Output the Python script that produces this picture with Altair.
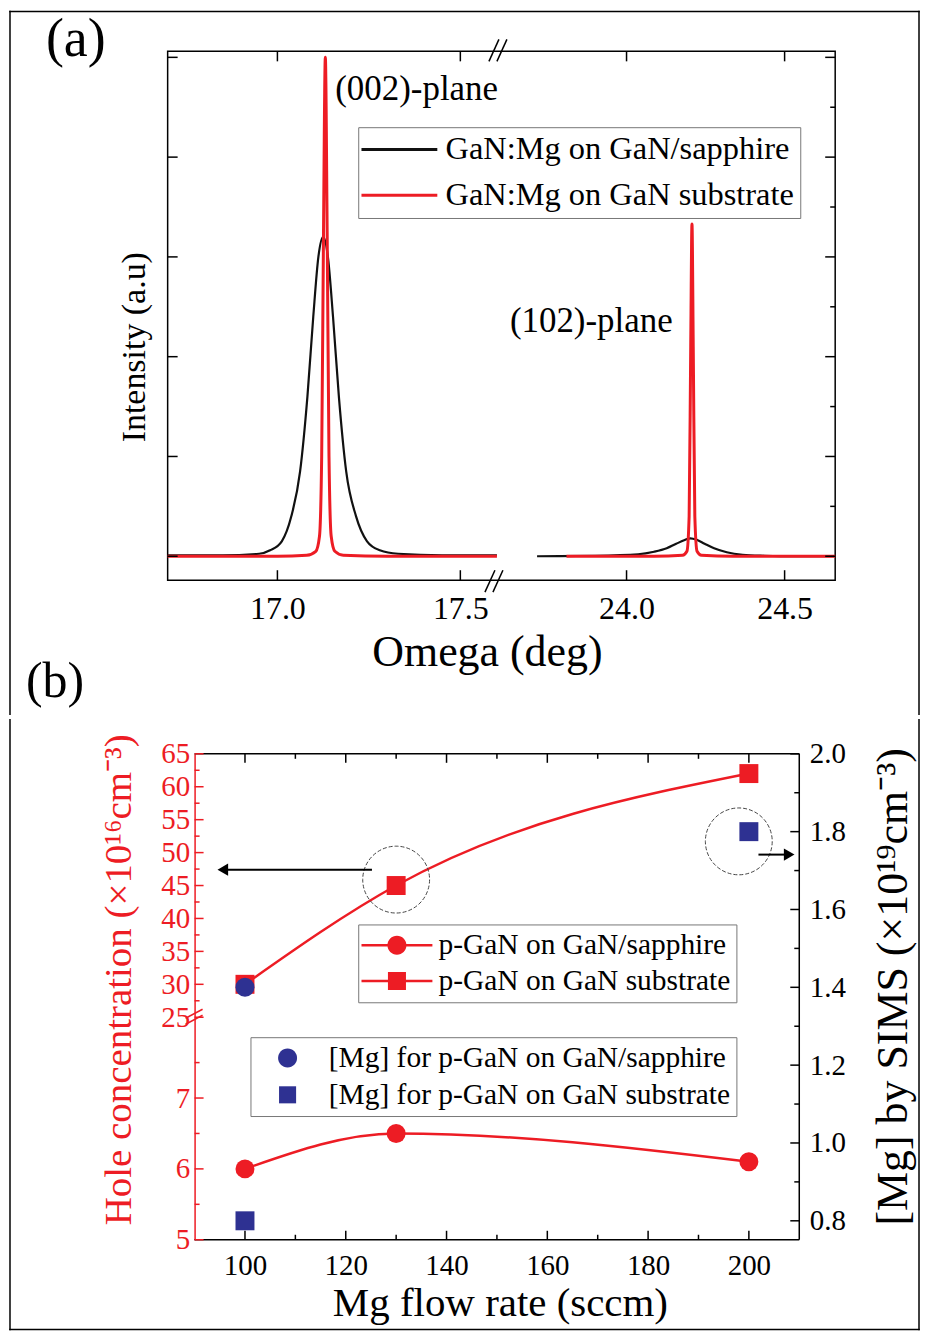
import altair as alt
import pandas as pd

RED = "#ED1C24"
BLUE = "#2E3192"
INK = "#111111"
FONT = "Liberation Serif"

# ---------------- panel (a): XRD rocking curves ----------------
series_a = ["GaN:Mg on GaN/sapphire", "GaN:Mg on GaN substrate"]

omega_002_black = [16.70, 16.85, 16.95, 16.98, 17.012, 17.038, 17.062, 17.082, 17.098, 17.112, 17.125,
                   17.138, 17.152, 17.168, 17.188, 17.215, 17.245, 17.28, 17.33, 17.45, 17.60]
int_002_black = [0.002, 0.002, 0.005, 0.012, 0.03, 0.08, 0.17, 0.32, 0.48, 0.60, 0.64,
                 0.60, 0.48, 0.32, 0.17, 0.08, 0.03, 0.012, 0.005, 0.002, 0.002]

omega_002_red = [16.70, 17.00, 17.08, 17.105, 17.115, 17.121, 17.126, 17.131, 17.136, 17.141, 17.147,
                 17.157, 17.18, 17.30, 17.60]
int_002_red = [0.0, 0.0, 0.002, 0.01, 0.04, 0.2, 0.65, 1.0, 0.65, 0.2, 0.04, 0.01, 0.002, 0.0, 0.0]

omega_102_black = [23.717, 23.90, 24.037, 24.087, 24.127, 24.157, 24.182, 24.202, 24.222, 24.247,
                   24.277, 24.317, 24.367, 24.437, 24.537, 24.66]
int_102_black = [0.0, 0.001, 0.004, 0.009, 0.016, 0.025, 0.032, 0.036, 0.033, 0.025, 0.016,
                 0.008, 0.003, 0.001, 0.0, 0.0]

omega_102_red = [23.81, 24.087, 24.177, 24.191, 24.198, 24.203, 24.207, 24.211, 24.216, 24.223,
                 24.237, 24.337, 24.66]
int_102_red = [0.0, 0.0, 0.002, 0.01, 0.08, 0.42, 0.666, 0.42, 0.08, 0.01, 0.002, 0.0, 0.0]

omega_ticks = [17.0, 17.5, 24.0, 24.5]
int_ticks_left = [0.0, 0.2, 0.4, 0.6, 0.8, 1.0]
int_ticks_right_major = [0.0, 0.2, 0.4, 0.6, 0.8, 1.0]
int_ticks_right_minor = [0.1, 0.3, 0.5, 0.7, 0.9]
omega_break = [17.6]

plane_labels = ["(002)-plane", "(102)-plane"]
plane_x = [17.158, 23.631]
plane_y = [0.936, 0.472]

# ---------------- panel (b): hole concentration / SIMS ----------------
series_b = ["p-GaN on GaN/sapphire", "p-GaN on GaN substrate"]
flow = [100, 130, 200]
hole_on_sapphire = [6.0, 6.5, 6.1]
hole_on_substrate = [30.0, 45.0, 62.0]

mg_series = ["[Mg] for p-GaN on GaN/sapphire", "[Mg] for p-GaN on GaN substrate"]
mg_flow = [100, 100, 200]
mg_value = [1.4, 0.8, 1.8]
mg_kind = [mg_series[0], mg_series[1], mg_series[1]]

flow_major = [100, 120, 140, 160, 180, 200]
flow_minor = [110, 130, 150, 170, 190]
hole_major = [5, 6, 7, 25, 30, 35, 40, 45, 50, 55, 60, 65]
hole_minor = [5.5, 6.5, 7.5, 27.5, 32.5, 37.5, 42.5, 47.5, 52.5, 57.5, 62.5]
mg_major = [0.8, 1.0, 1.2, 1.4, 1.6, 1.8, 2.0]
mg_minor = [0.9, 1.1, 1.3, 1.5, 1.7, 1.9]
hole_break = [25]

ring_hole = {"flow": [130], "hole": [45.9]}
ring_mg = {"flow": [198], "mg": [1.775]}
arrow_hole = {"flow": [125.2], "flow_end": [96.0], "hole": [47.4], "head": [95.6]}
arrow_mg = {"flow": [201.9], "flow_end": [207.0], "mg": [1.741], "head": [208.0]}

one = pd.DataFrame({"k": [0]})
BORDER = dict(color="black", strokeWidth=1.5, strokeCap="square")

# ================= panel (a) =================
WA, HA = 669, 530
xs_a = alt.Scale(domain=[16.7, 17.6, 23.59, 24.66], range=[0, 330, 330, WA], zero=False, nice=False)
ys_a = alt.Scale(domain=[-0.048, 1.012], zero=False, nice=False)
color_a = alt.Scale(domain=series_a, range=[INK, RED])

xax_a = alt.Axis(values=omega_ticks, format=".1f", title="Omega (deg)", ticks=False, domain=False,
                 grid=False, labelFontSize=32, labelPadding=13, labelColor="black",
                 titleFontSize=44, titleX=320, titleY=50, titleColor="black", labelFlush=False)
yax_a = alt.Axis(labels=False, ticks=False, domain=False, grid=False, title="Intensity (a.u)",
                 titleFontSize=34, titleX=-16, titleY=296, titleColor="black")
leg_a = alt.Legend(title=None, orient="none", legendX=191, legendY=76,
                   symbolType="M-2,0L6,0", symbolSize=361, symbolStrokeWidth=3,
                   labelFontSize=32.5, labelFont=FONT, labelOffset=49, padding=6, rowPadding=13,
                   strokeColor="#777777", fillColor="white", labelLimit=0, labelColor="black")


def seg_frame(xs, ys, sample, segment):
    return pd.DataFrame({"omega": xs, "intensity": ys, "sample": sample, "segment": segment})


df_black = pd.concat([seg_frame(omega_002_black, int_002_black, series_a[0], "002"),
                      seg_frame(omega_102_black, int_102_black, series_a[0], "102")])
df_red = pd.concat([seg_frame(omega_002_red, int_002_red, series_a[1], "002"),
                    seg_frame(omega_102_red, int_102_red, series_a[1], "102")])

X_A = alt.X("omega:Q", scale=xs_a, axis=xax_a)
Y_A = alt.Y("intensity:Q", scale=ys_a, axis=yax_a)

line_black = alt.Chart(df_black).mark_line(strokeWidth=2.2, interpolate="monotone").encode(
    x=X_A, y=Y_A, color=alt.Color("sample:N", scale=color_a, legend=leg_a), detail="segment:N")
line_red = alt.Chart(df_red).mark_line(strokeWidth=3, interpolate="monotone").encode(
    x=X_A, y=Y_A, color=alt.Color("sample:N", scale=color_a, legend=leg_a), detail="segment:N")

df_planes = pd.DataFrame({"omega": plane_x, "intensity": plane_y, "label": plane_labels})
plane_text = alt.Chart(df_planes).mark_text(align="left", baseline="middle", font=FONT,
                                            fontSize=35, color="black").encode(
    x=X_A, y=Y_A, text="label:N")

df_xt = pd.DataFrame({"omega": omega_ticks})
tick_bottom_a = alt.Chart(df_xt).mark_rule(color="black", strokeWidth=1.5).encode(
    x=X_A, y=alt.value(HA), y2=alt.value(HA - 10))
tick_top_a = alt.Chart(df_xt).mark_rule(color="black", strokeWidth=1.5).encode(
    x=X_A, y=alt.value(0), y2=alt.value(10))
tick_left_a = alt.Chart(pd.DataFrame({"intensity": int_ticks_left})).mark_rule(
    color="black", strokeWidth=1.5).encode(y=Y_A, x=alt.value(0), x2=alt.value(10))
tick_right_a = alt.Chart(pd.DataFrame({"intensity": int_ticks_right_major})).mark_rule(
    color="black", strokeWidth=1.5).encode(y=Y_A, x=alt.value(WA), x2=alt.value(WA - 10))
tick_right_a2 = alt.Chart(pd.DataFrame({"intensity": int_ticks_right_minor})).mark_rule(
    color="black", strokeWidth=1.5).encode(y=Y_A, x=alt.value(WA), x2=alt.value(WA - 5))

df_brk = pd.DataFrame({"omega": omega_break})


def slash_a(dx1, dx2, y1, y2):
    return alt.Chart(df_brk).mark_rule(color="black", strokeWidth=1.5, xOffset=dx1,
                                       x2Offset=dx2).encode(
        x=X_A, x2="omega:Q", y=alt.value(y1), y2=alt.value(y2))


breaks_a = [slash_a(-8, 2, 10, -12), slash_a(0, 10, 10, -12),
            slash_a(-12, -2, HA + 12, HA - 10), slash_a(-4, 6, HA + 12, HA - 10)]

A_TOP, A_BOT = -40, 664.25
border_a = [
    alt.Chart(one).mark_rule(**BORDER).encode(x=alt.value(-158), x2=alt.value(753), y=alt.value(A_TOP)),
    alt.Chart(one).mark_rule(**BORDER).encode(x=alt.value(-158), y=alt.value(A_TOP), y2=alt.value(A_BOT)),
    alt.Chart(one).mark_rule(**BORDER).encode(x=alt.value(753), y=alt.value(A_TOP), y2=alt.value(A_BOT)),
]
label_a = alt.Chart(one).mark_text(text="(a)", align="left", baseline="top", font=FONT,
                                   fontSize=54, color="black").encode(
    x=alt.value(-122), y=alt.value(-38))
label_b = alt.Chart(one).mark_text(text="(b)", align="left", baseline="top", font=FONT,
                                   fontSize=50, color="black").encode(
    x=alt.value(-142), y=alt.value(607))

panel_a = alt.layer(line_black, line_red, plane_text, tick_bottom_a, tick_top_a, tick_left_a,
                    tick_right_a, tick_right_a2, *breaks_a, *border_a, label_a, label_b).properties(
    width=WA, height=HA)

# ================= panel (b) =================
# the plot area sits 27 px to the right of the shared column origin
LB, WB, HB = 27, 633, 487
xs_b = alt.Scale(domain=[90, 210], range=[LB, WB], zero=False, nice=False)
ys_hole = alt.Scale(domain=[5, 8.14, 25, 65], range=[HB, 264, 264, 0], zero=False, nice=False)
ys_mg = alt.Scale(domain=[0.7513, 2.0], zero=False, nice=False)

xax_b = alt.Axis(values=flow_major, title="Mg flow rate (sccm)", ticks=False, domain=False,
                 grid=False, labelFontSize=29, labelPadding=12, labelColor="black",
                 titleFontSize=41, titleX=333, titleY=44, titleColor="black", labelFlush=False)
yax_hole = alt.Axis(orient="left", offset=-LB, values=hole_major, format="d", ticks=False,
                    domain=True, domainColor=RED, domainWidth=1.5, grid=False, labelFontSize=29,
                    labelPadding=5, labelColor=RED, labelOverlap=False, labelFlush=False,
                    labelBound=False, title="Hole concentration (×10¹⁶cm⁻³)", titleFontSize=39,
                    titleColor=RED, titleX=-56, titleY=226)
yax_mg = alt.Axis(orient="right", values=mg_major, format=".1f", ticks=False, domain=False,
                  grid=False, labelFontSize=29, labelPadding=10, labelColor="black",
                  labelOverlap=False, labelFlush=False, labelBound=False,
                  title="[Mg] by SIMS (×10¹⁹cm⁻³)", titleFontSize=44, titleColor="black",
                  titleAngle=270, titleBaseline="bottom", titleX=116, titleY=233)

X_B = alt.X("flow:Q", scale=xs_b, axis=xax_b)
Y_HOLE = alt.Y("hole:Q", scale=ys_hole, axis=None)
Y_MG = alt.Y("mg:Q", scale=ys_mg, axis=None)

df_hole = pd.DataFrame({
    "flow": flow + flow,
    "hole": hole_on_sapphire + hole_on_substrate,
    "series": [series_b[0]] * 3 + [series_b[1]] * 3,
})
df_mg = pd.DataFrame({"flow": mg_flow, "mg": mg_value, "kind": mg_kind})

# legend glyphs: a line with a marker (red) and plain markers (blue), all filled shapes
PATH_RC = "M-1.84,-0.13H5.64V0.13H-1.84Z M2.9,0A1,1,0,1,1,0.9,0A1,1,0,1,1,2.9,0Z"
PATH_RS = "M-1.84,-0.13H5.64V0.13H-1.84Z M0.95,-0.95H2.85V0.95H0.95Z"
PATH_BC = "M2.73,0A1,1,0,1,1,0.73,0A1,1,0,1,1,2.73,0Z"
PATH_BS = "M0.83,-0.9H2.63V0.9H0.83Z"

leg_red = alt.Legend(title=None, orient="none", legendX=191, legendY=171, symbolSize=361,
                     symbolStrokeWidth=0, symbolOpacity=1, labelFontSize=29.5, labelFont=FONT,
                     labelOffset=45, padding=6, rowPadding=5, strokeColor="#777777",
                     fillColor="white", labelLimit=0, labelColor="black")
leg_blue = alt.Legend(title=None, orient="none", legendX=83, legendY=284, symbolSize=361,
                      symbolStrokeWidth=0, symbolOpacity=1, labelFontSize=29.5, labelFont=FONT,
                      labelOffset=43, padding=6, rowPadding=6, strokeColor="#777777",
                      fillColor="white", labelLimit=0, labelColor="black")

line_hole = alt.Chart(df_hole).mark_line(color=RED, strokeWidth=2.5, interpolate="monotone").encode(
    x=X_B, y=alt.Y("hole:Q", scale=ys_hole, axis=yax_hole), detail="series:N")
pts_hole = alt.Chart(df_hole).mark_point(filled=True, size=361, color=RED, opacity=1).encode(
    x=X_B, y=Y_HOLE,
    shape=alt.Shape("series:N", scale=alt.Scale(domain=series_b, range=["circle", "square"]),
                    legend=None))
legend_hole = alt.Chart(df_hole).mark_point(filled=True, size=361, color=RED).encode(
    x=X_B, y=Y_HOLE, opacity=alt.value(0),
    shape=alt.Shape("series:N", scale=alt.Scale(domain=series_b, range=[PATH_RC, PATH_RS]),
                    legend=leg_red))

ticks_hole = [
    alt.Chart(pd.DataFrame({"hole": hole_major})).mark_rule(color=RED, strokeWidth=1.5).encode(
        y=Y_HOLE, x=alt.value(LB), x2=alt.value(LB + 9)),
    alt.Chart(pd.DataFrame({"hole": hole_minor})).mark_rule(color=RED, strokeWidth=1.5).encode(
        y=Y_HOLE, x=alt.value(LB), x2=alt.value(LB + 5)),
]
df_hbrk = pd.DataFrame({"hole": hole_break})


def slash_b(dy1, dy2):
    return alt.Chart(df_hbrk).mark_rule(color=RED, strokeWidth=1.5, yOffset=dy1,
                                        y2Offset=dy2).encode(
        y=Y_HOLE, y2="hole:Q", x=alt.value(LB - 9), x2=alt.value(LB + 8))


breaks_b = [slash_b(1, -8), slash_b(7, -2)]

ring1 = alt.Chart(pd.DataFrame(ring_hole)).mark_point(shape="circle", size=4489, filled=False,
                                                      stroke="#444444", strokeWidth=1,
                                                      strokeDash=[4, 2], opacity=1).encode(
    x=X_B, y=Y_HOLE)
arr1 = alt.Chart(pd.DataFrame(arrow_hole)).mark_rule(color="black", strokeWidth=2).encode(
    x=X_B, x2="flow_end:Q", y=Y_HOLE)
head1 = alt.Chart(pd.DataFrame(arrow_hole)).mark_point(shape="triangle-left", filled=True, size=150,
                                                       color="black", opacity=1).encode(
    x=alt.X("head:Q", scale=xs_b, axis=xax_b), y=Y_HOLE)

pts_mg = alt.Chart(df_mg).mark_point(filled=True, size=361, color=BLUE, opacity=1).encode(
    x=X_B, y=alt.Y("mg:Q", scale=ys_mg, axis=yax_mg),
    shape=alt.Shape("kind:N", scale=alt.Scale(domain=mg_series, range=["circle", "square"]),
                    legend=None))
legend_mg = alt.Chart(df_mg).mark_point(filled=True, size=361, color=BLUE).encode(
    x=X_B, y=Y_MG, opacity=alt.value(0),
    shape=alt.Shape("kind:N", scale=alt.Scale(domain=mg_series, range=[PATH_BC, PATH_BS]),
                    legend=leg_blue))
ticks_mg = [
    alt.Chart(pd.DataFrame({"mg": mg_major})).mark_rule(color="black", strokeWidth=1.5).encode(
        y=Y_MG, x=alt.value(WB), x2=alt.value(WB - 9)),
    alt.Chart(pd.DataFrame({"mg": mg_minor})).mark_rule(color="black", strokeWidth=1.5).encode(
        y=Y_MG, x=alt.value(WB), x2=alt.value(WB - 5)),
]
ring2 = alt.Chart(pd.DataFrame(ring_mg)).mark_point(shape="circle", size=4489, filled=False,
                                                    stroke="#444444", strokeWidth=1,
                                                    strokeDash=[4, 2], opacity=1).encode(
    x=X_B, y=Y_MG)
arr2 = alt.Chart(pd.DataFrame(arrow_mg)).mark_rule(color="black", strokeWidth=2).encode(
    x=X_B, x2="flow_end:Q", y=Y_MG)
head2 = alt.Chart(pd.DataFrame(arrow_mg)).mark_point(shape="triangle-right", filled=True, size=150,
                                                     color="black", opacity=1).encode(
    x=alt.X("head:Q", scale=xs_b, axis=xax_b), y=Y_MG)

ticks_flow = [
    alt.Chart(pd.DataFrame({"flow": flow_major})).mark_rule(color="black", strokeWidth=1.5).encode(
        x=X_B, y=alt.value(HB), y2=alt.value(HB - 9)),
    alt.Chart(pd.DataFrame({"flow": flow_minor})).mark_rule(color="black", strokeWidth=1.5).encode(
        x=X_B, y=alt.value(HB), y2=alt.value(HB - 5)),
    alt.Chart(pd.DataFrame({"flow": flow_major})).mark_rule(color="black", strokeWidth=1.5).encode(
        x=X_B, y=alt.value(0), y2=alt.value(9)),
    alt.Chart(pd.DataFrame({"flow": flow_minor})).mark_rule(color="black", strokeWidth=1.5).encode(
        x=X_B, y=alt.value(0), y2=alt.value(5)),
]
frame_b = [
    alt.Chart(one).mark_rule(color="black", strokeWidth=1.5).encode(
        x=alt.value(LB), x2=alt.value(WB), y=alt.value(0)),
    alt.Chart(one).mark_rule(color="black", strokeWidth=1.5).encode(
        x=alt.value(LB), x2=alt.value(WB), y=alt.value(HB)),
    alt.Chart(one).mark_rule(color="black", strokeWidth=1.5).encode(
        x=alt.value(WB), y=alt.value(0), y2=alt.value(HB)),
]
B_TOP, B_BOT = -34.25, 577
border_b = [
    alt.Chart(one).mark_rule(**BORDER).encode(x=alt.value(-158), x2=alt.value(753), y=alt.value(B_BOT)),
    alt.Chart(one).mark_rule(**BORDER).encode(x=alt.value(-158), y=alt.value(B_TOP), y2=alt.value(B_BOT)),
    alt.Chart(one).mark_rule(**BORDER).encode(x=alt.value(753), y=alt.value(B_TOP), y2=alt.value(B_BOT)),
]

panel_b = alt.layer(*frame_b, line_hole, legend_hole, pts_hole, *ticks_hole, *breaks_b, ring1, arr1,
                    head1, legend_mg, pts_mg, *ticks_mg, ring2, arr2, head2, *ticks_flow,
                    *border_b).resolve_scale(
    y="independent", shape="independent").resolve_legend(shape="independent").properties(
    width=WB, height=HB, view=alt.ViewBackground(stroke="transparent"))

chart = alt.vconcat(panel_a, panel_b, spacing=0).resolve_scale(
    color="independent", shape="independent").resolve_legend(
    color="independent", shape="independent").properties(padding=0).configure_view(
    stroke="black", strokeWidth=1.5).configure_axis(
    labelFont=FONT, titleFont=FONT, titleFontWeight="normal", grid=False).configure_legend(
    labelFont=FONT, titleFont=FONT).configure_text(font=FONT)

chart.save("out.html", embed_options={"renderer": "svg", "actions": False})
